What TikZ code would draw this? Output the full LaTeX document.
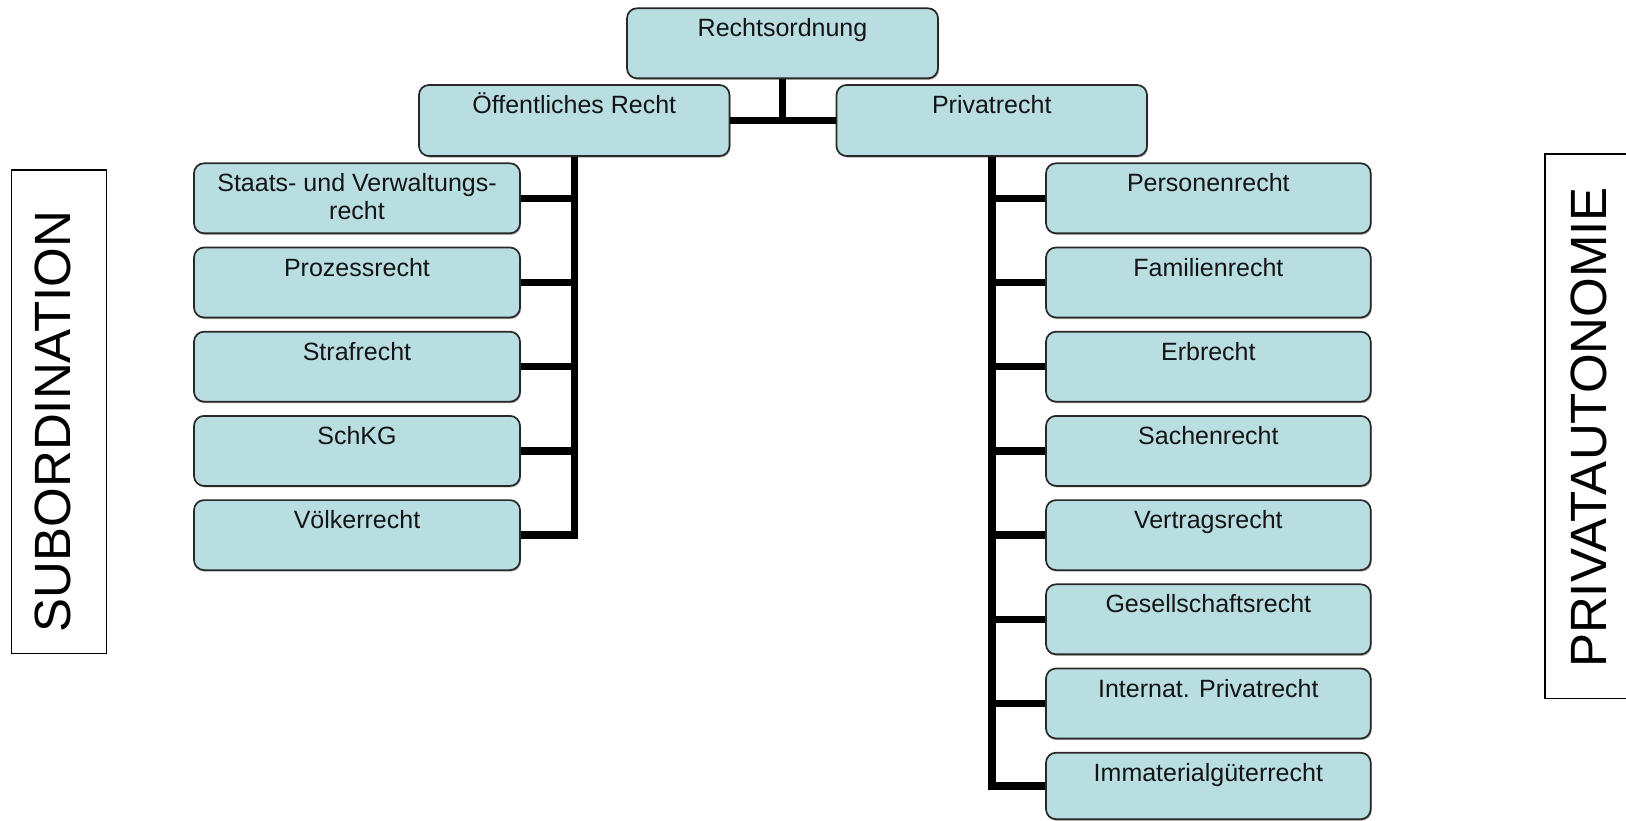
\documentclass[tikz,border=0pt]{standalone}
\usepackage{fontspec}
\setmainfont{Liberation Sans}
\usetikzlibrary{shadows}
\definecolor{boxfill}{RGB}{184,222,226}
\definecolor{boxline}{RGB}{40,40,40}
\definecolor{txt}{RGB}{20,20,20}

% box with its label set near the top edge:
% [baseline of the last text line below the top], name, centre x, top y, width, height, text
\newcommand{\mkbox}[7][29.5]{%
  \node[orgbox, minimum width=#5, minimum height=#6] (#2) at (#3, {#4+#6/2}) {};
  \node[boxtext] (#2-t) at ([yshift=-#1pt]#2.north) {#7};
}

\begin{document}
\begin{tikzpicture}[x=1pt, y=-1pt,
  orgbox/.style={draw=boxline, line width=1.7pt, fill=boxfill, rounded corners=10pt,
    inner sep=0pt, drop shadow={shadow xshift=1pt, shadow yshift=-1.5pt, fill=black!55, opacity=0.6}},
  boxtext/.style={anchor=base, inner sep=0pt, text=txt, align=center,
    font=\fontsize{25}{27.5}\selectfont},
  link/.style={line width=7.5pt, black},
  sidebox/.style={draw=black, line width=1.5pt, inner sep=0pt},
  sidetext/.style={rotate=90, inner sep=0pt, text=black, font=\fontsize{51}{55}\selectfont}
]
\fill[white] (0,0) rectangle (1626,820);
\useasboundingbox (0,0) rectangle (1626,820);

% top levels
\mkbox{recht}{782.5}{8.3}{311}{70}{Rechtsordnung}
\mkbox{oeff}{574.25}{85}{310.5}{71}{Öffentliches Recht}
\mkbox{priv}{991.75}{85}{310.5}{71}{Privatrecht}

% public law
\mkbox[57]{l1}{357}{163.3}{326}{70}{Staats- und Verwaltungs-\\recht}
\mkbox{l2}{357}{247.5}{326}{70}{Prozessrecht}
\mkbox{l3}{357}{331.7}{326}{70}{Strafrecht}
\mkbox{l4}{357}{415.9}{326}{70}{SchKG}
\mkbox{l5}{357}{500.1}{326}{70}{Völkerrecht}

% private law
\mkbox{r1}{1208.35}{163.3}{324.7}{70}{Personenrecht}
\mkbox{r2}{1208.35}{247.5}{324.7}{70}{Familienrecht}
\mkbox{r3}{1208.35}{331.7}{324.7}{70}{Erbrecht}
\mkbox{r4}{1208.35}{415.9}{324.7}{70}{Sachenrecht}
\mkbox{r5}{1208.35}{500.1}{324.7}{70}{Vertragsrecht}
\mkbox{r6}{1208.35}{584.3}{324.7}{70}{Gesellschaftsrecht}
\mkbox{r7}{1208.35}{668.5}{324.7}{70}{Internat. Privatrecht}
\mkbox{r8}{1208.35}{752.7}{324.7}{66.5}{Immaterialgüterrecht}

% connectors
\draw[link] (recht.south) -- (recht.south |- oeff.east);
\draw[link] (oeff.east) -- (priv.west);
\foreach \n in {l1,l2,l3,l4,l5} \draw[link] (oeff.south) |- (\n.east);
\foreach \n in {r1,r2,r3,r4,r5,r6,r7,r8} \draw[link] (priv.south) |- (\n.west);

% side captions
\node[sidebox, minimum width=95, minimum height=483.3] (subframe) at (59.2,411.7) {};
\node[sidetext] (sub) at (53.4,421.7) {SUBORDINATION};
\node[sidebox, minimum width=87, minimum height=544.3] (paframe) at (1588.5,426.2) {};
\node[sidetext] (pa) at (1589,427.5) {PRIVATAUTONOMIE};
\end{tikzpicture}
\end{document}
